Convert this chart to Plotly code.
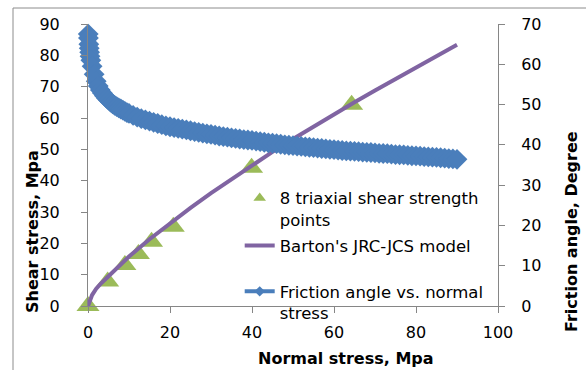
import plotly.graph_objects as go

# Triaxial shear strength points
tri_sigma = [0, 4.8, 9.0, 12.3, 15.5, 20.8, 39.9, 64.3]
tri_tau = [0, 7.8, 13.1, 16.6, 20.5, 25.3, 44.1, 64.2]

# Barton's JRC-JCS model curve
bart_sigma = [0, 0.5, 1, 2, 3, 5, 7.5, 10, 15, 20, 25, 30, 35, 40, 45, 50, 55, 60, 65, 70, 75, 80, 85, 90]
bart_tau = [0, 2, 3.5, 5.5, 7, 9.5, 12.5, 15.8, 21.3, 26.5, 31.3, 36, 40.5, 45, 49.2, 53.3, 57.3, 61.2, 65, 68.8, 72.5, 76.2, 79.8, 83.4]

# Friction angle vs normal stress
fa_sigma = [0.05, 0.1, 0.2, 0.3, 0.4, 0.5, 0.7, 1, 1.5, 2, 2.5, 3, 3.5, 4, 4.5, 5, 5.5, 6, 6.5, 7, 7.5, 8, 8.5, 9, 9.5,
            10, 11, 12, 13, 14, 15, 16, 17, 18, 19, 20, 21, 22, 23, 24, 25, 26, 27, 28, 29,
            30, 31, 32, 33, 34, 35, 36, 37, 38, 39, 40, 41, 42, 43, 44, 45, 46, 47, 48, 49,
            50, 51, 52, 53, 54, 55, 56, 57, 58, 59, 60, 61, 62, 63, 64, 65, 66, 67, 68, 69,
            70, 71, 72, 73, 74, 75, 76, 77, 78, 79, 80, 81, 82, 83, 84, 85, 86, 87, 88, 89, 90]
fa_angle = [67.5, 66.5, 65, 64, 63, 62, 61, 59.5, 57.5, 55.8, 54.6, 53.6, 52.9, 52.2, 51.6, 51.1, 50.6, 50.2, 49.8, 49.5, 49.2, 48.9, 48.6, 48.3, 48.0,
            47.8, 47.3, 46.9, 46.5, 46.2, 45.9, 45.6, 45.3, 45.0, 44.7, 44.5, 44.3, 44.1, 43.9, 43.7, 43.5, 43.3, 43.1, 42.9, 42.75,
            42.6, 42.4, 42.2, 42.05, 41.9, 41.75, 41.6, 41.45, 41.3, 41.2, 41.1, 40.95, 40.8, 40.65, 40.5, 40.4, 40.3, 40.15, 40.0, 39.9,
            39.8, 39.7, 39.6, 39.5, 39.4, 39.3, 39.2, 39.1, 39.0, 38.9, 38.8, 38.7, 38.6, 38.5, 38.45, 38.4, 38.3, 38.2, 38.15, 38.1,
            38.0, 37.9, 37.85, 37.8, 37.7, 37.6, 37.55, 37.5, 37.4, 37.3, 37.25, 37.2, 37.1, 37.0, 36.95, 36.9, 36.8, 36.7, 36.6, 36.5, 36.4]

x_ticks = [0, 20, 40, 60, 80, 100]

NAME_TRI = "8 triaxial shear strength<br>points"
NAME_BART = "Barton's JRC-JCS model"
NAME_FA = "Friction angle vs. normal<br>stress"

FONT = "DejaVu Sans"
AXC = "#868686"
GREEN = "#9BBB59"
PURPLE = "#8064A2"
BLUE = "#4A7EBB"

fig = go.Figure()

fig.add_trace(go.Scatter(
    x=tri_sigma, y=tri_tau, mode="markers", cliponaxis=False,
    name=NAME_TRI, showlegend=False,
    marker=dict(symbol="triangle-up", size=20, color=GREEN),
))
fig.add_trace(go.Scatter(
    x=bart_sigma, y=bart_tau, mode="lines",
    name=NAME_BART, showlegend=False,
    line=dict(color=PURPLE, width=4),
))
fig.add_trace(go.Scatter(
    x=fa_sigma, y=fa_angle, mode="lines+markers", yaxis="y2", cliponaxis=False,
    name=NAME_FA, showlegend=False,
    line=dict(color=BLUE, width=4),
    marker=dict(symbol="diamond", size=16, color=BLUE),
))

# legend-only entries (smaller symbols, like the original legend)
fig.add_trace(go.Scatter(x=[None], y=[None], mode="markers", name=NAME_TRI,
                         marker=dict(symbol="triangle-up", size=11, color=GREEN), legend="legend"))
fig.add_trace(go.Scatter(x=[None], y=[None], mode="lines", name=NAME_BART,
                         line=dict(color=PURPLE, width=4), legend="legend2"))
fig.add_trace(go.Scatter(x=[None], y=[None], mode="lines+markers", name=NAME_FA, yaxis="y2",
                         line=dict(color=BLUE, width=4),
                         marker=dict(symbol="diamond", size=8, color=BLUE), legend="legend3"))

axis_common = dict(
    showgrid=False, zeroline=False, showline=True, linecolor=AXC, linewidth=1,
    ticks="outside", ticklen=6, tickcolor=AXC,
    tickfont=dict(family=FONT, size=16, color="#000000"),
)

leg_common = dict(
    xanchor="left", yanchor="top", bgcolor="rgba(0,0,0,0)",
    font=dict(family=FONT, size=16.5, color="#000000"),
    valign="top", itemwidth=30,
)

fig.update_layout(
    width=586, height=370,
    margin=dict(l=88, r=88, t=24, b=64),
    paper_bgcolor="white", plot_bgcolor="white",
    font=dict(family=FONT, color="#000000"),
    xaxis=dict(range=[0, 100], tickvals=x_ticks, ticklabelstandoff=6, **axis_common),
    yaxis=dict(range=[0, 90], dtick=10, ticklabelstandoff=18, **axis_common),
    yaxis2=dict(range=[0, 70], dtick=10, overlaying="y", side="right", ticklabelstandoff=13, **axis_common),
    legend=dict(x=0.37, y=0.444, **leg_common),
    legend2=dict(x=0.37, y=0.276, **leg_common),
    legend3=dict(x=0.37, y=0.113, **leg_common),
    showlegend=True,
    annotations=[
        dict(text="<b>Normal stress, Mpa</b>", xref="paper", yref="paper",
             x=(346 - 88) / 410, y=(306 - 358) / 282, showarrow=False,
             xanchor="center", yanchor="middle",
             font=dict(family=FONT, size=16)),
        dict(text="<b>Shear stress, Mpa</b>", xref="paper", yref="paper",
             x=(32 - 88) / 410, y=(306 - 231) / 282, showarrow=False, textangle=-90,
             xanchor="center", yanchor="middle",
             font=dict(family=FONT, size=16)),
        dict(text="<b>Friction angle, Degree</b>", xref="paper", yref="paper",
             x=(571 - 88) / 410, y=(306 - 232) / 282, showarrow=False, textangle=-90,
             xanchor="center", yanchor="middle",
             font=dict(family=FONT, size=16)),
    ],
    shapes=[
        dict(type="rect", xref="paper", yref="paper",
             x0=(13 - 88) / 410, x1=(600 - 88) / 410,
             y0=(306 - 390) / 282, y1=(306 - 8) / 282,
             line=dict(color="#8C8C8C", width=1), fillcolor="rgba(0,0,0,0)", layer="below"),
    ],
)

fig.write_html("out.html")
